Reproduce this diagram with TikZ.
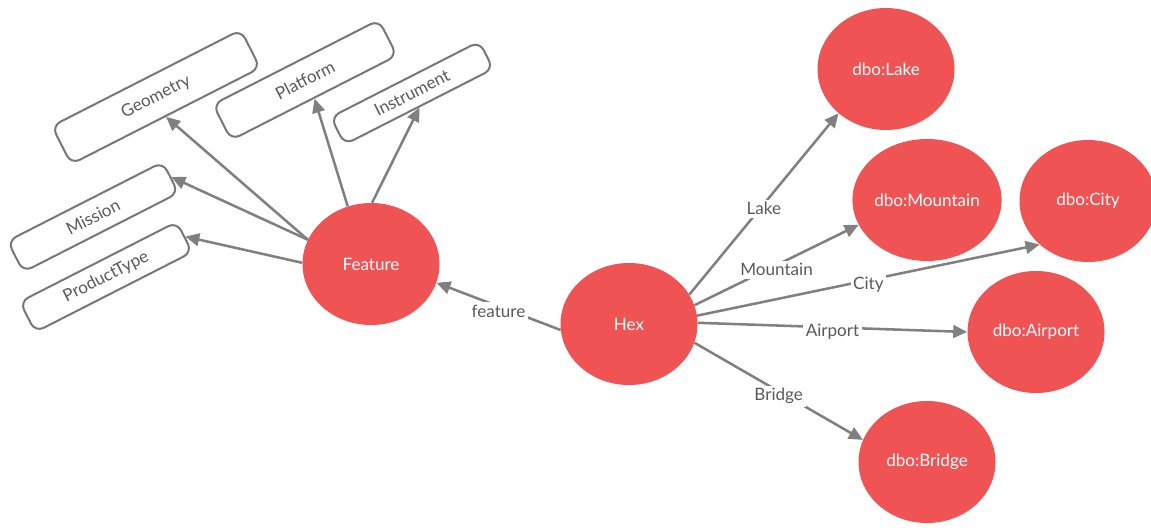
\documentclass[tikz,border=0pt]{standalone}
\usepackage{fontspec}
\setmainfont{Lato}
\usetikzlibrary{arrows.meta,shapes.geometric}
\definecolor{nodered}{HTML}{EF5353}
\definecolor{edgegray}{HTML}{808080}
\definecolor{labelgray}{HTML}{5A5A5A}
\definecolor{boxgray}{HTML}{777777}
\tikzset{
  ent/.style={ellipse, fill=nodered, draw=none, minimum width=102.75pt, minimum height=91.5pt, inner sep=0pt, text=white, font=\fontsize{12.8}{15}\selectfont},
  cls/.style={draw=boxgray, line width=1.5pt, rounded corners=7pt, fill=white, rotate=27, inner sep=0pt, text=labelgray, font=\fontsize{12.8}{15}\selectfont},
  rel/.style={draw=edgegray, line width=1.9pt, -{Triangle[length=10.5pt,width=9.5pt]}},
  lbl/.style={midway, yshift=-3.5pt, fill=white, inner sep=2pt, text=labelgray, font=\fontsize{12.8}{15}\selectfont}
}
\begin{document}
\begin{tikzpicture}[x=0.75pt,y=-0.75pt]
\useasboundingbox (0,0) rectangle (1151,530);
\clip (0,0) rectangle (1151,530);
% class boxes
\node[cls, minimum width=159pt, minimum height=32pt] (geom) at (156,97) {Geometry};
\node[cls, minimum width=139.5pt, minimum height=30pt] (plat) at (305,80) {Platform};
\node[cls, minimum width=125pt, minimum height=23pt] (inst) at (412,93) {Instrument};
\node[cls, minimum width=130.5pt, minimum height=26pt] (miss) at (93,217) {Mission};
\node[cls, minimum width=132pt, minimum height=25.5pt] (prod) at (106,277) {ProductType};
% entities
\node[ent] (feat) at (371,264) {Feature};
\node[ent] (hex) at (629,324) {Hex};
\node[ent] (lake) at (886,69) {dbo:Lake};
\node[ent] (mount) at (927,200) {dbo:Mountain};
\node[ent] (city) at (1088,201) {dbo:City};
\node[ent] (air) at (1036,332) {dbo:Airport};
\node[ent] (bridge) at (927,462) {dbo:Bridge};
% Feature edges
\draw[rel] (feat.159) -- (geom.south);
\draw[rel] (feat.112) -- (plat.south);
\draw[rel] (feat.89) -- (inst.south);
\draw[rel] (feat.159) -- (miss.east);
\draw[rel] (feat.179) -- (prod.east);
% Hex edges
\draw[rel] (hex.185) -- node[lbl] {feature} (feat.-16);
\draw[rel] (hex.26) -- node[lbl] {Lake} (lake.223);
\draw[rel] (hex.16) -- node[lbl] {Mountain} (mount.200);
\draw[rel] (hex.7) -- node[lbl] {City} (city.222);
\draw[rel] (hex.1) -- node[lbl] {Airport} (air.180);
\draw[rel] (hex.-16) -- node[lbl] {Bridge} (bridge.161);
\end{tikzpicture}
\end{document}
